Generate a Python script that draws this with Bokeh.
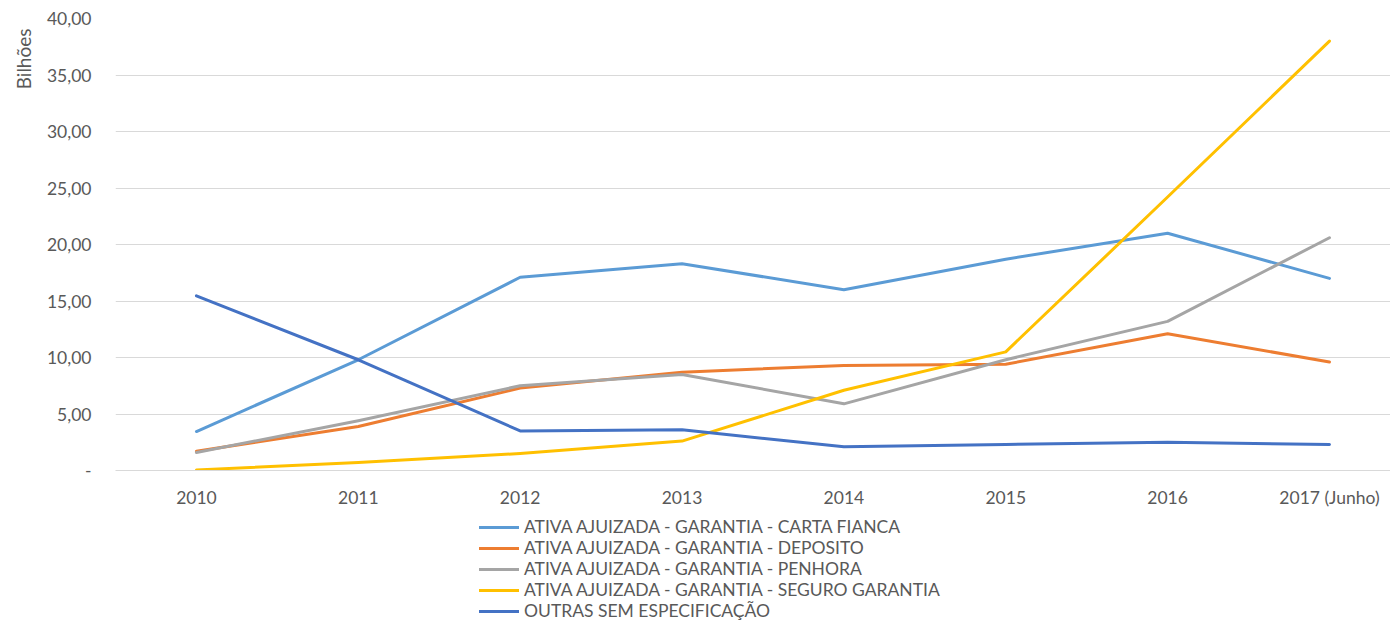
from bokeh.plotting import figure
from bokeh.layouts import column
from bokeh.models import Range1d, FixedTicker, Legend, LegendItem, Title
from bokeh.embed import file_html
from bokeh.resources import INLINE

categories = ["2010", "2011", "2012", "2013", "2014", "2015", "2016", "2017 (Junho)"]
carta_fianca = [3.45, 9.8, 17.1, 18.3, 16.0, 18.7, 21.0, 17.0]
deposito = [1.7, 3.9, 7.3, 8.7, 9.3, 9.4, 12.1, 9.6]
penhora = [1.6, 4.4, 7.5, 8.5, 5.9, 9.8, 13.2, 20.6]
seguro_garantia = [0.05, 0.7, 1.5, 2.6, 7.1, 10.5, 24.2, 38.0]
outras = [15.45, 9.8, 3.5, 3.6, 2.1, 2.3, 2.5, 2.3]

series_names = [
    "ATIVA AJUIZADA - GARANTIA - CARTA FIANCA",
    "ATIVA AJUIZADA - GARANTIA - DEPOSITO",
    "ATIVA AJUIZADA - GARANTIA - PENHORA",
    "ATIVA AJUIZADA - GARANTIA - SEGURO GARANTIA",
    "OUTRAS SEM ESPECIFICAÇÃO",
]
series_values = [carta_fianca, deposito, penhora, seguro_garantia, outras]
series_colors = ["#5B9BD5", "#ED7D31", "#A5A5A5", "#FFC000", "#4472C4"]

y_ticks = [0, 5, 10, 15, 20, 25, 30, 35, 40]
y_tick_labels = ["-", "5,00", "10,00", "15,00", "20,00", "25,00", "30,00", "35,00", "40,00"]
y_axis_title = "Bilhões"

FONT = "Lato"
TXT = "#595959"
FS = "17.5px"

xs = list(range(len(categories)))

# ---- main chart ----
p = figure(width=1390, height=510, output_backend="svg", toolbar_location=None,
           x_range=Range1d(-0.5, 7.377), y_range=Range1d(0, 40),
           min_border_left=114, min_border_right=0, min_border_top=18, min_border_bottom=39)
p.outline_line_color = None
p.background_fill_color = "white"
p.border_fill_color = "white"

p.xgrid.grid_line_color = None
p.ygrid.grid_line_color = "#D9D9D9"
p.ygrid.grid_line_width = 1
p.ygrid.ticker = FixedTicker(ticks=y_ticks)

p.yaxis.ticker = FixedTicker(ticks=y_ticks)
p.yaxis.major_label_overrides = {t: l for t, l in zip(y_ticks, y_tick_labels)}
p.yaxis.axis_line_color = None
p.yaxis.major_tick_line_color = None
p.yaxis.minor_tick_line_color = None
p.yaxis.major_label_standoff = 18
p.yaxis.major_label_text_font = FONT
p.yaxis.major_label_text_font_size = FS
p.yaxis.major_label_text_color = TXT

p.xaxis.ticker = FixedTicker(ticks=xs)
p.xaxis.major_label_overrides = {i: c for i, c in enumerate(categories)}
p.xaxis.axis_line_color = "#D9D9D9"
p.xaxis.major_tick_line_color = None
p.xaxis.minor_tick_line_color = None
p.xaxis.major_label_standoff = 10
p.xaxis.major_label_text_font = FONT
p.xaxis.major_label_text_font_size = FS
p.xaxis.major_label_text_color = TXT

for vals, col in zip(series_values, series_colors):
    p.line(xs, vals, line_color=col, line_width=3, line_cap="round", line_join="round")

p.add_layout(Title(text=y_axis_title, align="right", text_font=FONT, text_font_size="19px",
                   text_font_style="normal", text_color=TXT, standoff=18, offset=10), "left")

# ---- legend strip (same series, drawn outside its visible range; only the legend shows) ----
lg = figure(width=1390, height=111, output_backend="svg", toolbar_location=None,
            x_range=Range1d(-0.5, 7.377), y_range=Range1d(-200, -100),
            min_border_left=114, min_border_right=0, min_border_top=0, min_border_bottom=0)
lg.axis.visible = False
lg.grid.visible = False
lg.outline_line_color = None

items = []
for name, vals, col in zip(series_names, series_values, series_colors):
    r = lg.line(xs, vals, line_color=col, line_width=3, line_cap="round")
    items.append(LegendItem(label=name, renderers=[r]))

legend = Legend(items=items, location=(364, 0), orientation="vertical",
                glyph_width=40, glyph_height=20, label_height=20, label_standoff=5,
                spacing=0, padding=0, margin=0, border_line_color=None,
                background_fill_alpha=0, label_text_font=FONT,
                label_text_font_size=FS, label_text_color=TXT)
lg.add_layout(legend, "center")

open("out.html", "w").write(file_html(column(p, lg, spacing=0), INLINE))
